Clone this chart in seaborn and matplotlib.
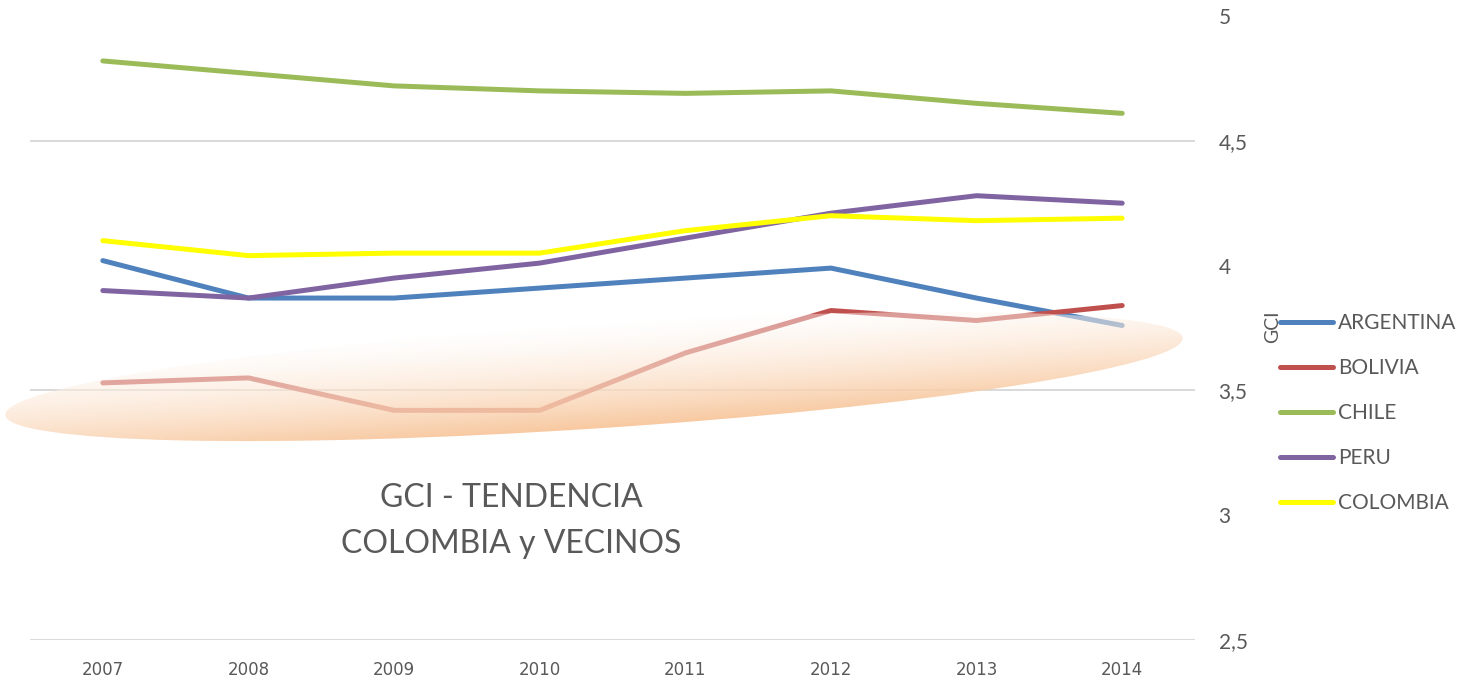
import numpy as np
import pandas as pd
import matplotlib
matplotlib.use("Agg")
import matplotlib.pyplot as plt
import seaborn as sns
from matplotlib.patches import Ellipse
from matplotlib.ticker import FixedLocator, FuncFormatter

# data
years = [2007, 2008, 2009, 2010, 2011, 2012, 2013, 2014]
argentina = [4.02, 3.87, 3.87, 3.91, 3.95, 3.99, 3.87, 3.76]
bolivia = [3.53, 3.55, 3.42, 3.42, 3.65, 3.82, 3.78, 3.84]
chile = [4.82, 4.77, 4.72, 4.70, 4.69, 4.70, 4.65, 4.61]
peru = [3.90, 3.87, 3.95, 4.01, 4.11, 4.21, 4.28, 4.25]
colombia = [4.10, 4.04, 4.05, 4.05, 4.14, 4.20, 4.18, 4.19]
countries = ["ARGENTINA", "BOLIVIA", "CHILE", "PERU", "COLOMBIA"]
colors = ["#4f81bd", "#c0504d", "#9bbb59", "#8064a2", "#ffff00"]
y_ticks = [2.5, 3, 3.5, 4, 4.5, 5]
grid_at = [2.5, 3.5, 4.5]

series = {"ARGENTINA": argentina, "BOLIVIA": bolivia, "CHILE": chile,
          "PERU": peru, "COLOMBIA": colombia}
df = pd.concat([pd.DataFrame({"year": [str(y) for y in years], "GCI": v, "country": k})
                for k, v in series.items()], ignore_index=True)

sns.set_style("white")
plt.rcParams['font.family'] = ['Lato', 'DejaVu Sans']
text_gray = "#595959"

W, H = 1461, 686
fig = plt.figure(figsize=(W / 100, H / 100), dpi=100)
ax = fig.add_axes([30 / W, 46 / H, (1195 - 30) / W, (670 - 46) / H])

sns.lineplot(data=df, x="year", y="GCI", hue="country", hue_order=countries,
             palette=dict(zip(countries, colors)), linewidth=3.6, ax=ax,
             sort=False, legend=True)
for ln in ax.get_lines():
    ln.set_solid_capstyle("round")
    ln.set_solid_joinstyle("round")

ax.set_xlim(-0.5, len(years) - 0.5)
ax.set_ylim(2.5, 5)
ax.yaxis.tick_right()
ax.yaxis.set_major_locator(FixedLocator(y_ticks))
ax.yaxis.set_major_formatter(FuncFormatter(lambda v, p: f"{v:g}".replace(".", ",")))
ax.yaxis.set_minor_locator(FixedLocator(grid_at))
ax.yaxis.remove_overlapping_locs = False
ax.grid(False)
ax.grid(True, which="minor", axis="y", color="#d9d9d9", linewidth=1.4)
ax.set_axisbelow(True)
ax.tick_params(axis="y", which="both", length=0, pad=17, labelsize=15, labelcolor=text_gray)
ax.tick_params(axis="x", length=0, pad=15, labelsize=12, labelcolor=text_gray)
for lab in ax.get_xticklabels():
    lab.set_family(['Liberation Sans Narrow', 'DejaVu Sans'])
for s in ax.spines.values():
    s.set_visible(False)
ax.set_xlabel("")
ax.set_ylabel("")

# legend on the right
handles, labels = ax.get_legend_handles_labels()
ax.legend(handles, labels, loc="upper left", bbox_to_anchor=(1280 / W, 1 - 313 / H),
          bbox_transform=fig.transFigure, frameon=False, fontsize=15,
          handlelength=2.55, handletextpad=0.22, labelspacing=1.2,
          borderpad=0, borderaxespad=0, labelcolor=text_gray)
fig.text(1273 / W, 1 - 327 / H, "GCI", rotation=90, ha="center", va="center",
         fontsize=14, color=text_gray)

# orange gradient ellipse overlay (pixel coordinates)
ov = fig.add_axes([0, 0, 1, 1], zorder=5)
ov.set_xlim(0, W)
ov.set_ylim(H, 0)
ov.axis("off")
cx, cy, a, b, ang = 594, 376.5, 590, 52, 3.74
xx, yy = np.meshgrid(np.arange(W) + 0.5, np.arange(H) + 0.5)
th = np.deg2rad(ang)
dx, dy = xx - cx, yy - cy
v = dx * np.sin(th) + dy * np.cos(th)
t = np.clip((v / b + 1) / 2, 0, 1)
orange = np.array([248, 198, 155]) / 255
img = np.ones((H, W, 4))
for c in range(3):
    img[..., c] = 1 * (1 - t) + orange[c] * t
img[..., 3] = 0.4 + 0.55 * t
im = ov.imshow(img, extent=(0, W, H, 0), aspect="auto", interpolation="bilinear")
ell = Ellipse((cx, cy), 2 * a, 2 * b, angle=-ang, transform=ov.transData,
              facecolor="none", edgecolor="none")
ov.add_patch(ell)
im.set_clip_path(ell)

fig.text(511 / W, 1 - 521 / H, "GCI - TENDENCIA\nCOLOMBIA y VECINOS", ha="center",
         va="center", fontsize=23, color=text_gray, linespacing=1.68, zorder=10)

fig.savefig("out.png", dpi=100)
